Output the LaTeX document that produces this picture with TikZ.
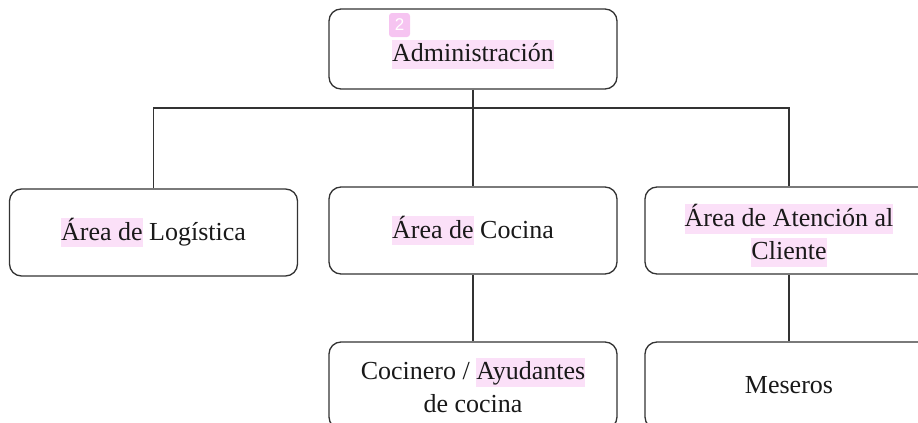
\documentclass[tikz,border=0pt]{standalone}
\usepackage{fontspec}
\setmainfont{Liberation Serif}
\newfontfamily\badgefont{Liberation Sans}
\definecolor{hlpink}{HTML}{FBE0F8}
\definecolor{badgepink}{HTML}{F6C4F1}
\definecolor{inkgray}{HTML}{333333}
\newcommand{\hlt}[1]{{\setlength{\fboxsep}{0pt}\colorbox{hlpink}{\rule[-3.5pt]{0pt}{14.5pt}#1}}}

\begin{document}
\begin{tikzpicture}[x=0.5pt,y=-0.5pt]
\tikzstyle{every node}+=[inner sep=0pt, font=\fontsize{13}{16.5}\selectfont]
\tikzstyle{unit}=[draw=inkgray, line width=0.65pt, rounded corners=6pt, minimum width=144pt, minimum height=43.5pt, align=center, text=black!90]
\tikzstyle{link}=[draw=inkgray, line width=0.65pt]
\clip (0,0) rectangle (918,423);
\node[unit, minimum height=40pt, text height=16pt] (admin) at (473,49) {\hlt{Administración}};
\node[fill=badgepink, rounded corners=1.5pt, minimum width=10.5pt, minimum height=12pt, text=white, font=\badgefont\fontsize{8.5}{10}\selectfont] (badge) at (399.5,25) {2};
\node[unit] (log) at (153.5,232.5) {\hlt{Área de} Logística};
\node[unit] (coc) at (473,230.5) {\hlt{Área de} Cocina};
\node[unit, text height=29pt, text depth=0pt] (ate) at (789,230.5) {\hlt{Área de Atención al}\\\hlt{Cliente}};
\node[unit] (cocin) at (473,385.5) {Cocinero / \hlt{Ayudantes}\\de cocina};
\node[unit] (mes) at (789,385.5) {Meseros};
\coordinate (bus) at (473,108);
\draw[link] (admin) -- (coc);
\draw[link] (log.north) |- (bus) -| (ate.north);
\draw[link] (coc) -- (cocin);
\draw[link] (ate) -- (mes);
\end{tikzpicture}
\end{document}
